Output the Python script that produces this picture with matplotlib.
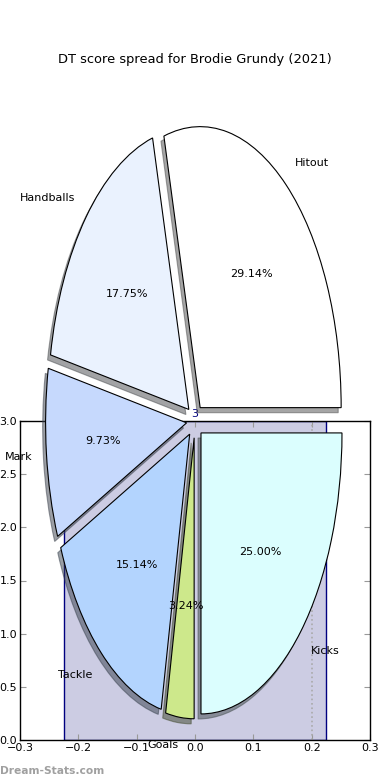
import matplotlib
matplotlib.use("Agg")
import matplotlib.pyplot as plt

# Data
categories = ["Hitout", "Handballs", "Mark", "Tackle", "Goals", "Kicks"]
shares = [29.14, 17.75, 9.73, 15.14, 3.24, 25.00]
slice_colors = ["#ffffff", "#eaf2fe", "#c6d9fd", "#b3d4fe", "#cde88b", "#dbfefe"]
bar_x = [0.0]
bar_height = [3]
bar_label = ["3"]
x_ticks = [-0.3, -0.2, -0.1, 0.0, 0.1, 0.2, 0.3]
y_ticks = [0.0, 0.5, 1.0, 1.5, 2.0, 2.5, 3.0]
ref_line_x = 0.2

W, H = 390, 780
fig = plt.figure(figsize=(W / 100, H / 100), dpi=100)

# Main (bar) axes
ax = fig.add_axes([20 / W, (H - 740) / H, 350 / W, 319 / H])
ax.bar(bar_x, bar_height, width=0.45, color="#cccce3", edgecolor="#000080", linewidth=1)
ax.axvline(ref_line_x, color="#aaaaaa", linestyle=":", linewidth=1.2)
ax.text(bar_x[0], bar_height[0] + 0.02, bar_label[0], color="#000080",
        ha="center", va="bottom", fontsize=8)
ax.set_xlim(-0.3, 0.3)
ax.set_ylim(0, 3)
ax.set_xticks(x_ticks)
ax.set_yticks(y_ticks)
ax.set_xticklabels(["\u22120.3", "\u22120.2", "\u22120.1", "0.0", "0.1", "0.2", "0.3"])
ax.tick_params(direction="in", length=4, color="#999999", labelsize=8,
               top=True, right=True, pad=2)
for s in ax.spines.values():
    s.set_linewidth(1)
    s.set_color("black")

# Pie axes overlay
pax = fig.add_axes([18.75 / W, 7.75 / H, 352.5 / W, 702.5 / H])
wedges, texts, autotexts = pax.pie(
    shares, labels=categories, colors=slice_colors,
    explode=[0.06] * len(shares), autopct="%1.2f%%", startangle=0,
    shadow={"ox": -0.015, "oy": -0.013},
    wedgeprops={"edgecolor": "black", "linewidth": 0.8},
    textprops={"fontsize": 8},
)
pax.set_aspect("auto")
pax.set_xlim(-1.25, 1.25)
pax.set_ylim(-1.25, 1.25)
pax.set_frame_on(False)
pax.patch.set_visible(False)

fig.text(0.5, (H - 60) / H, "DT score spread for Brodie Grundy (2021)",
         ha="center", va="center", fontsize=9.4)
fig.text(0.0, (H - 771) / H, "Dream-Stats.com", ha="left", va="center",
         fontsize=7.7, color="#a0a0a0", fontweight="bold")

fig.savefig("out.png", dpi=100)
